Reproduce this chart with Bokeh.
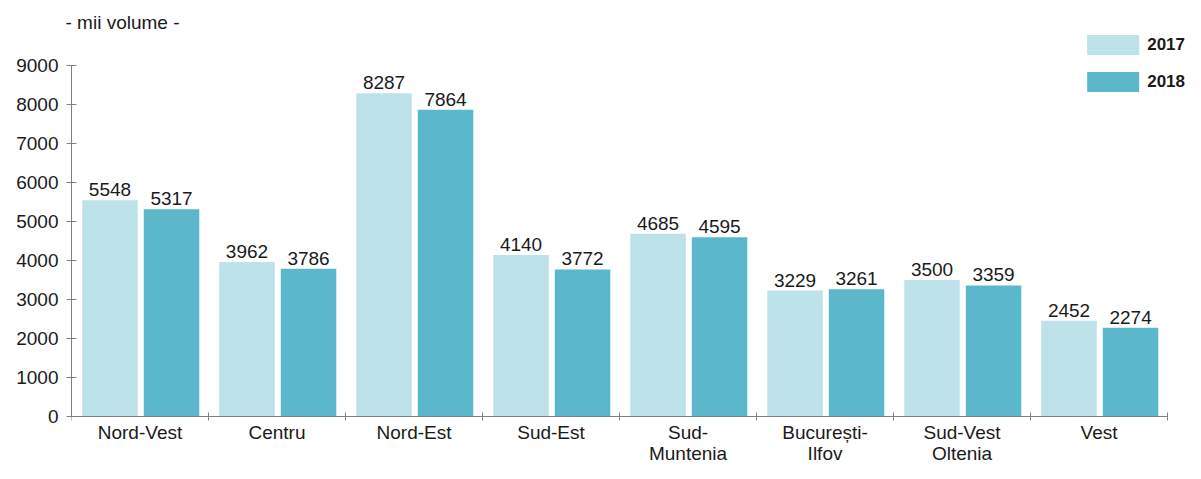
from bokeh.plotting import figure
from bokeh.models import (ColumnDataSource, Range1d, FixedTicker, Legend, LegendItem, Title)
from bokeh.embed import file_html
from bokeh.resources import INLINE

regions = ["Nord-Vest", "Centru", "Nord-Est", "Sud-Est", "Sud-\nMuntenia",
           "București-\nIlfov", "Sud-Vest\nOltenia", "Vest"]
v2017 = [5548, 3962, 8287, 4140, 4685, 3229, 3500, 2452]
v2018 = [5317, 3786, 7864, 3772, 4595, 3261, 3359, 2274]
y_ticks = [0, 1000, 2000, 3000, 4000, 5000, 6000, 7000, 8000, 9000]

C17 = "#bde2e9"
C18 = "#5bb7ca"
FONT = "Liberation Sans"
TXT = "#1a1a1a"
AX = "#808080"
FS = "19px"

n = len(regions)
idx = list(range(n))
x17 = [i + 0.281 for i in idx]
x18 = [i + 0.73 for i in idx]

src = ColumnDataSource(dict(x17=x17, x18=x18, v17=v2017, v18=v2018,
                            t17=[str(v) for v in v2017], t18=[str(v) for v in v2018]))

p = figure(width=1185, height=463, output_backend="svg", toolbar_location=None,
           x_range=Range1d(0, 8.131), y_range=Range1d(-1205, 9846),
           min_border_left=71, min_border_right=0, min_border_top=32, min_border_bottom=0)
p.outline_line_color = None
p.xgrid.visible = False
p.ygrid.visible = False
p.background_fill_color = "white"

p.add_layout(Title(text="- mii volume -", align="left", offset=-6, standoff=0,
                   text_font=FONT, text_font_size=FS, text_font_style="normal",
                   text_color=TXT), "above")

r17 = p.vbar(x="x17", top="v17", width=0.405, source=src, fill_color=C17, line_color=None)
r18 = p.vbar(x="x18", top="v18", width=0.405, source=src, fill_color=C18, line_color=None)

for xc, tc, yc in (("x17", "t17", "v17"), ("x18", "t18", "v18")):
    p.text(x=xc, y=yc, text=tc, source=src, text_align="center", text_baseline="bottom",
           y_offset=-4, text_font_size=FS, text_color=TXT,
           text_font={"value": FONT})

# y axis
ya = p.yaxis[0]
ya.ticker = FixedTicker(ticks=y_ticks)
ya.bounds = (0, 9000)
ya.axis_line_color = AX
ya.major_tick_line_color = AX
ya.major_tick_in = 5
ya.major_tick_out = 5
ya.minor_tick_line_color = None
ya.major_label_text_font = FONT
ya.major_label_text_font_size = FS
ya.major_label_text_color = TXT
ya.major_label_standoff = 8

# x axis, pinned at y = 0
xa = p.xaxis[0]
xa.fixed_location = 0
xa.ticker = FixedTicker(ticks=[i + 0.5 for i in idx], minor_ticks=list(range(n + 1)))
xa.major_label_overrides = {i + 0.5: regions[i] for i in idx}
xa.bounds = (0, 8)
xa.axis_line_color = AX
xa.major_tick_line_color = None
xa.major_tick_in = 0
xa.major_tick_out = 0
xa.minor_tick_line_color = AX
xa.minor_tick_in = 4
xa.minor_tick_out = 4
xa.major_label_text_font = FONT
xa.major_label_text_font_size = FS
xa.major_label_text_line_height = 1.0
xa.major_label_text_color = TXT
xa.major_label_standoff = 1

legend = Legend(items=[LegendItem(label="2017", renderers=[r17]),
                       LegendItem(label="2018", renderers=[r18])],
                location="top_right")
legend.border_line_color = None
legend.background_fill_alpha = 0
legend.padding = 0
legend.margin = 0
legend.glyph_width = 65
legend.glyph_height = 25
legend.label_height = 25
legend.spacing = 12
legend.label_standoff = 2
legend.label_text_font = FONT
legend.label_text_font_size = "17px"
legend.label_text_font_style = "bold"
legend.label_text_color = TXT
p.add_layout(legend)

open("out.html", "w").write(file_html(p, INLINE))
